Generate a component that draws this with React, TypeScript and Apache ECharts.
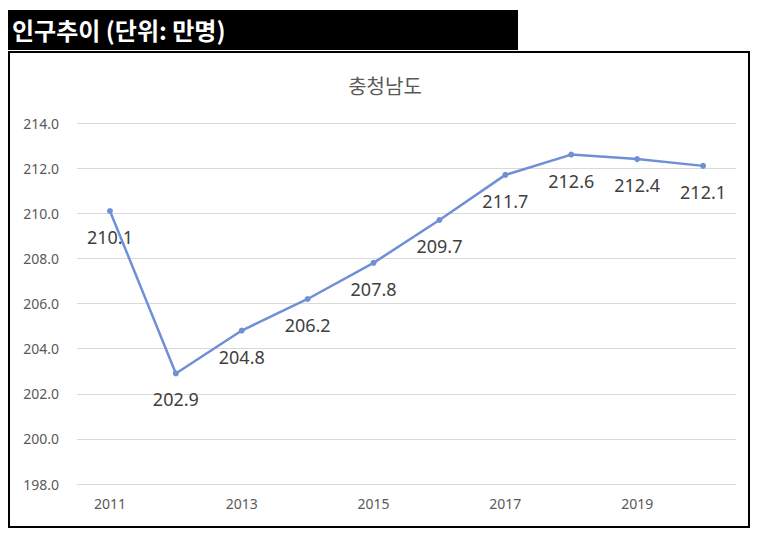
import React, { useEffect, useRef } from "react";
import * as echarts from "echarts";

const years = ["2011", "2012", "2013", "2014", "2015", "2016", "2017", "2018", "2019", "2020. 09"];
const population = [210.1, 202.9, 204.8, 206.2, 207.8, 209.7, 211.7, 212.6, 212.4, 212.1];

const App = () => {
  const chartRef = useRef<HTMLDivElement>(null);

  useEffect(() => {
    if (!chartRef.current) return;
    const chart = echarts.init(chartRef.current, undefined, { renderer: "svg" });
    chart.setOption({
      animation: false,
      title: {
        text: "충청남도",
        left: 380,
        textAlign: "center",
        top: 70,
        textStyle: { fontSize: 20, fontWeight: "normal", color: "#595959", fontFamily: "Noto Sans CJK KR" },
      },
      grid: { left: 77, right: 21, top: 123, bottom: 50 },
      xAxis: {
        type: "category",
        data: years,
        axisTick: { show: false },
        axisLine: { lineStyle: { color: "#d9d9d9" } },
        axisLabel: { color: "#595959", fontSize: 14, margin: 12, fontFamily: "Noto Sans" },
      },
      yAxis: {
        type: "value",
        min: 198,
        max: 214,
        interval: 2,
        axisLabel: { color: "#595959", fontSize: 14, margin: 18, formatter: (v: number) => v.toFixed(1), fontFamily: "Noto Sans" },
        splitLine: { lineStyle: { color: "#d9d9d9" } },
      },
      series: [
        {
          type: "line",
          data: population,
          symbol: "circle",
          symbolSize: 6,
          lineStyle: { color: "#6f90d6", width: 2.5 },
          itemStyle: { color: "#6f90d6" },
          label: {
            show: true,
            position: "bottom",
            distance: 14,
            fontSize: 18,
            color: "#404040",
            fontFamily: "Noto Sans",
            formatter: (p: any) => p.value.toFixed(1),
          },
        },
      ],
    });
    return () => chart.dispose();
  }, []);

  return (
    <div style={{ position: "fixed", left: 0, top: 0, width: 757, height: 534, background: "#fff" }}>
      <div
        style={{
          position: "absolute", left: 8, top: 10, width: 510, height: 40, background: "#000",
          color: "#fff", fontWeight: "bold", fontSize: 24, lineHeight: "40px", paddingLeft: 4,
          boxSizing: "border-box", fontFamily: "Noto Sans CJK KR",
        }}
      >
        인구추이 (단위: 만명)
      </div>
      <div
        style={{
          position: "absolute", left: 8, top: 51, width: 742, height: 477,
          border: "2px solid #000", boxSizing: "border-box",
        }}
      />
      <div ref={chartRef} style={{ position: "absolute", left: 0, top: 0, width: 757, height: 534 }} />
    </div>
  );
};

export default App;
